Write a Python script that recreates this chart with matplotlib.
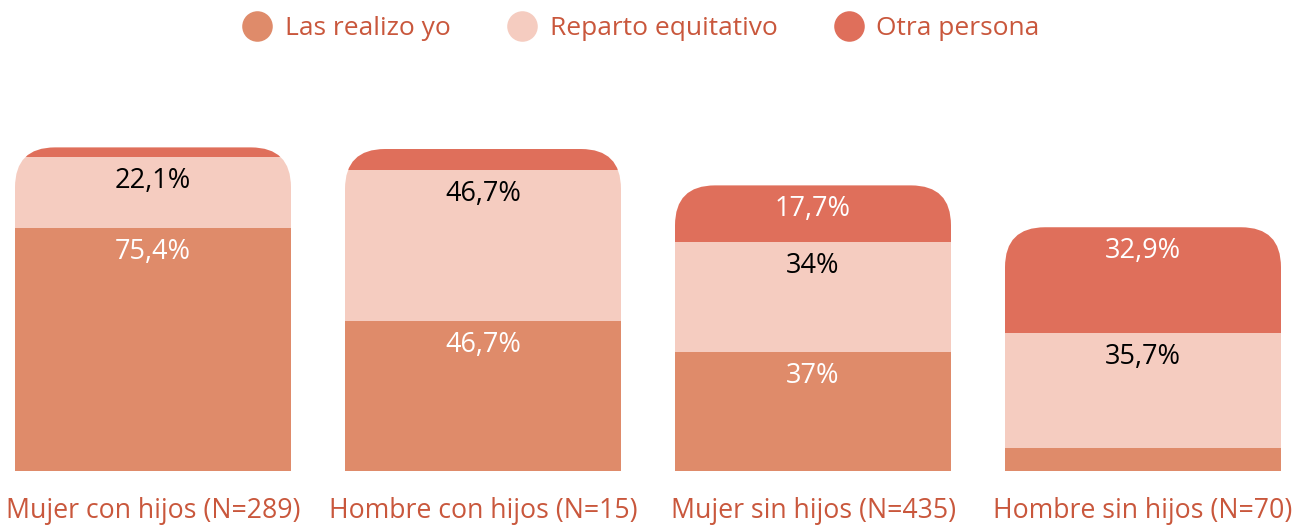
import matplotlib
matplotlib.use('Agg')
import matplotlib.pyplot as plt
from matplotlib.patches import FancyBboxPatch
from matplotlib.lines import Line2D
import numpy as np

plt.rcParams['font.family'] = ['Open Sans', 'DejaVu Sans']

categorias = ['Mujer con hijos (N=289)', 'Hombre con hijos (N=15)',
              'Mujer sin hijos (N=435)', 'Hombre sin hijos (N=70)']
series = ['Las realizo yo', 'Reparto equitativo', 'Otra persona']
realizo_yo = [75.4, 46.7, 37.0, 7.1]
reparto = [22.1, 46.7, 34.0, 35.7]
otra_persona = [3.0, 6.6, 17.7, 32.9]
etiquetas_yo = ['75,4%', '46,7%', '37%', '']
etiquetas_reparto = ['22,1%', '46,7%', '34%', '35,7%']
etiquetas_otra = ['', '', '17,7%', '32,9%']

colores = ['#DF8B6A', '#F5CCC0', '#DF6F5B']
color_texto = ['white', 'black', 'white']
color_cat = '#C9573C'

W, H = 1295, 529
fig = plt.figure(figsize=(W / 100, H / 100), dpi=100)
px_y = 3.22            # pixeles por punto porcentual
base = 58              # linea base en px desde abajo
ymax = 120
ax = fig.add_axes([0, base / H, 1, ymax * px_y / H])
paso = 330
x0 = 153
ax.set_xlim(-x0 / paso, (W - x0) / paso)
ax.set_ylim(0, ymax)

x = np.arange(len(categorias))
ancho = 276 / paso
radio = 40 / paso      # radio de esquinas en unidades x
aspecto = (1 / px_y) / (1 / paso)

datos = [realizo_yo, reparto, otra_persona]
etiquetas = [etiquetas_yo, etiquetas_reparto, etiquetas_otra]
abajo = np.zeros(len(categorias))
barras = []
for vals, col, etq, ct in zip(datos, colores, etiquetas, color_texto):
    b = ax.bar(x, vals, ancho, bottom=abajo, color=col, linewidth=0)
    barras.append(b)
    for xi, v, bo, t in zip(x, vals, abajo, etq):
        if t:
            ax.text(xi, bo + v - 24 / px_y, t, ha='center', va='center',
                    color=ct, fontsize=19.5)
    abajo = abajo + np.array(vals)

# esquinas superiores redondeadas
for i, total in enumerate(abajo):
    clip = FancyBboxPatch((x[i] - ancho / 2, -30), ancho, total + 30,
                          boxstyle=f'round,pad=0,rounding_size={radio}',
                          mutation_aspect=aspecto, transform=ax.transData,
                          facecolor='none', edgecolor='none')
    ax.add_patch(clip)
    for b in barras:
        b.patches[i].set_clip_path(clip)

ax.set_xticks(x, categorias)
ax.tick_params(axis='x', length=0, pad=19, labelsize=19.2, labelcolor=color_cat)
ax.set_yticks([])
for s in ax.spines.values():
    s.set_visible(False)

handles = [Line2D([], [], marker='o', linestyle='', markersize=22,
                  markerfacecolor=c, markeredgewidth=0) for c in colores]
fig.legend(handles, series, loc='upper center', ncol=3, frameon=False,
           bbox_to_anchor=(0.4945, 1.015), fontsize=19, labelcolor=color_cat,
           handlelength=1.2, handletextpad=0.45, columnspacing=2.1)

fig.savefig('out.png', dpi=100)
